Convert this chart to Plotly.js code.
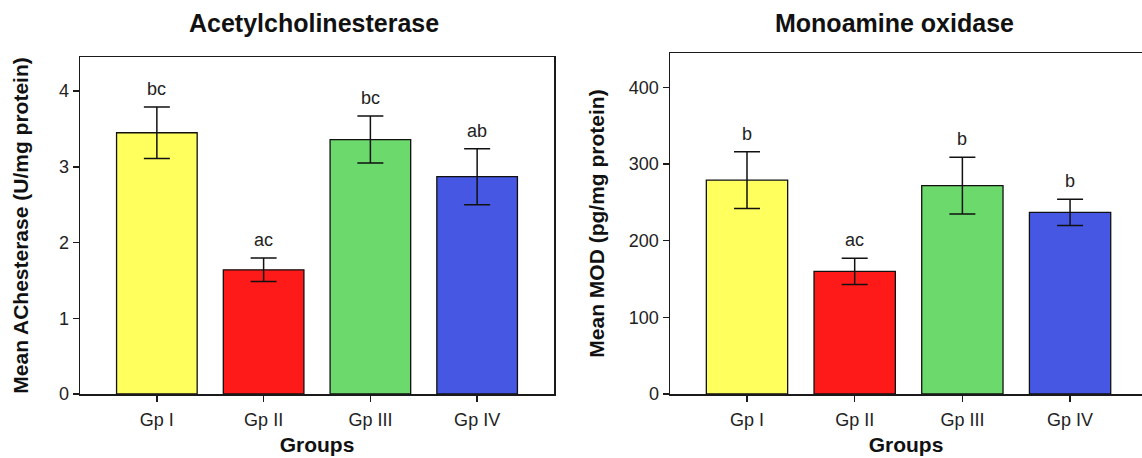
<!DOCTYPE html>
<html>
<head>
<meta charset="utf-8">
<script src="https://cdn.plot.ly/plotly-3.0.1.min.js"></script>
<style>
  html, body { margin: 0; padding: 0; background: #fff; }
  #chart { width: 1142px; height: 458px; }
</style>
</head>
<body>
<div id="chart"></div>
<script>
const groups = ["Gp I", "Gp II", "Gp III", "Gp IV"];
const barColors = ["#ffff5e", "#ff1a1a", "#6bd96b", "#4657e3"];

const ache_mean = [3.45, 1.64, 3.36, 2.87];
const ache_err  = [0.34, 0.155, 0.31, 0.37];
const ache_letters = ["bc", "ac", "bc", "ab"];

const mao_mean = [279, 160, 272, 237];
const mao_err  = [37, 17, 37, 17];
const mao_letters = ["b", "ac", "b", "b"];

const FONT = "Liberation Sans, Arial, sans-serif";
const TXT = "#222";

function barTrace(y, err, xa, ya) {
  return {
    type: "bar", x: groups, y: y, xaxis: xa, yaxis: ya,
    marker: { color: barColors, line: { color: "#111", width: 1.3 } },
    error_y: { type: "data", array: err, visible: true, color: "#111", thickness: 1.5, width: 13 },
    showlegend: false, hoverinfo: "x+y"
  };
}

const data = [
  barTrace(ache_mean, ache_err, "x", "y"),
  barTrace(mao_mean, mao_err, "x2", "y2")
];

const annotations = [];
function addLetters(letters, mean, err, xref, yref) {
  letters.forEach((t, i) => {
    annotations.push({
      xref: xref, yref: yref, x: groups[i], y: mean[i] + err[i],
      text: t, showarrow: false, yanchor: "middle", yshift: 18,
      font: { family: FONT, size: 18, color: TXT }
    });
  });
}
addLetters(ache_letters, ache_mean, ache_err, "x", "y");
addLetters(mao_letters, mao_mean, mao_err, "x2", "y2");

annotations.push(
  { xref: "paper", yref: "paper", x: 314/1142, y: 1 - 23/458, text: "<b>Acetylcholinesterase</b>",
    showarrow: false, xanchor: "center", yanchor: "middle", font: { family: FONT, size: 25, color: "#111" } },
  { xref: "paper", yref: "paper", x: 894/1142, y: 1 - 23/458, text: "<b>Monoamine oxidase</b>",
    showarrow: false, xanchor: "center", yanchor: "middle", font: { family: FONT, size: 25, color: "#111" } }
);

const axisBase = {
  showline: true, linecolor: "#1a1a1a", linewidth: 1.5,
  ticks: "outside", ticklen: 6, tickwidth: 1.5, tickcolor: "#1a1a1a",
  showgrid: false, zeroline: false,
  tickfont: { family: FONT, size: 18, color: TXT }
};

const yDomL = [1 - 394/458, 1 - 57/458];
const yDomR = [1 - 394/458, 1 - 53/458];

const layout = {
  width: 1142, height: 458,
  margin: { l: 0, r: 0, t: 0, b: 0 },
  paper_bgcolor: "#fff", plot_bgcolor: "#fff",
  bargap: 0.245,
  font: { family: FONT, color: TXT },
  xaxis: Object.assign({}, axisBase, {
    domain: [80/1142, 554/1142], anchor: "y", mirror: true,
    type: "category", range: [-0.72, 3.72], ticklabelstandoff: 3,
    title: { text: "<b>Groups</b>", font: { family: FONT, size: 21, color: "#111" }, standoff: 8 }
  }),
  yaxis: Object.assign({}, axisBase, {
    domain: yDomL, anchor: "x", mirror: true,
    range: [0, 4.45], tickvals: [0, 1, 2, 3, 4],
    title: { text: "<b>Mean AChesterase (U/mg protein)</b>", font: { family: FONT, size: 21, color: "#111" }, standoff: 24 }
  }),
  xaxis2: Object.assign({}, axisBase, {
    domain: [670/1142, 1], anchor: "y2", mirror: true,
    type: "category", range: [-0.715, 3.668], ticklabelstandoff: 3,
    title: { text: "<b>Groups</b>", font: { family: FONT, size: 21, color: "#111" }, standoff: 8 }
  }),
  yaxis2: Object.assign({}, axisBase, {
    domain: yDomR, anchor: "x2", mirror: false,
    range: [0, 445], tickvals: [0, 100, 200, 300, 400],
    title: { text: "<b>Mean MOD (pg/mg protein)</b>", font: { family: FONT, size: 21, color: "#111" }, standoff: 18 }
  }),
  annotations: annotations
};

Plotly.newPlot("chart", data, layout, { displayModeBar: false, staticPlot: true });
</script>
</body>
</html>
